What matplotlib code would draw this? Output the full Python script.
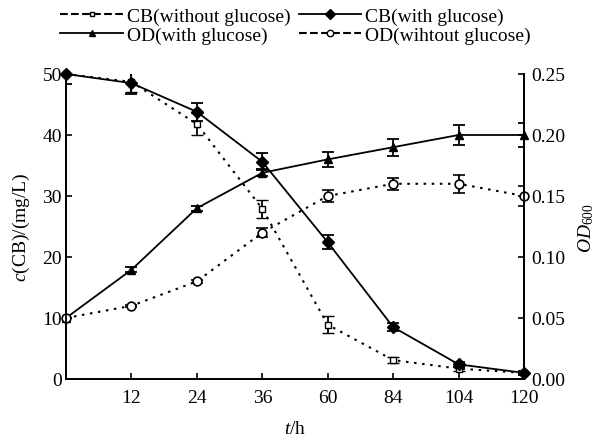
import matplotlib
matplotlib.use("Agg")
import matplotlib.pyplot as plt
from matplotlib.lines import Line2D
import numpy as np

plt.rcParams['font.family'] = ['Liberation Serif', 'DejaVu Serif']
plt.rcParams['mathtext.fontset'] = 'custom'
plt.rcParams['mathtext.rm'] = 'Liberation Serif'
plt.rcParams['mathtext.it'] = 'Liberation Serif:italic'

time_labels = ['0', '12', '24', '36', '60', '84', '104', '120']

cb_without = [50, 48.7, 41.8, 27.9, 8.9, 3.1, 1.7, 1.0]
cb_without_err = [0, 1.6, 1.75, 1.45, 1.4, 0.55, 0.4, 0.2]
cb_with = [50, 48.5, 43.8, 35.6, 22.4, 8.5, 2.4, 1.0]
cb_with_err = [1.6, 1.8, 1.45, 1.4, 1.15, 0.6, 0.4, 0.3]
od_with = [0.05, 0.0895, 0.14, 0.169, 0.18, 0.19, 0.20, 0.20]
od_with_err = [0, 0.002, 0.002, 0.003, 0.006, 0.007, 0.008, 0.01]
od_without = [0.05, 0.06, 0.08, 0.12, 0.15, 0.16, 0.16, 0.15]
od_without_err = [0, 0.001, 0.001, 0.004, 0.005, 0.005, 0.0074, 0.0078]

x = np.arange(len(time_labels))

fig = plt.figure(figsize=(6.02, 4.39), dpi=100)
ax = fig.add_axes([0.1096, 0.1344, 0.761, 0.6948])
ax2 = ax.twinx()

dot = (0, (1.2, 2.7))
ekw = dict(capsize=4.3, elinewidth=1.3, capthick=1.3, ecolor='black')

h1 = ax.errorbar(x, cb_without, yerr=cb_without_err, color='black', ls=dot, lw=1.5,
                 marker='s', ms=3.8, mfc='white', mec='black', mew=1.0, **ekw)
h2 = ax.errorbar(x, cb_with, yerr=cb_with_err, color='black', ls='-', lw=1.3,
                 marker='D', ms=6.2, mfc='black', mec='black', **ekw)
h3 = ax2.errorbar(x, od_with, yerr=od_with_err, color='black', ls='-', lw=1.3,
                  marker='^', ms=6, mfc='black', mec='black', **ekw)
h4 = ax2.errorbar(x, od_without, yerr=od_without_err, color='black', ls=dot, lw=1.5,
                  marker='o', ms=6.3, mfc='white', mec='black', mew=1.2, **ekw)
for h in (h1, h2, h3, h4):
    h.lines[0].set_clip_on(False)

ax.set_xlim(0, 7)
ax.set_ylim(0, 50)
ax2.set_ylim(0, 0.25)
ax.set_xticks(x[1:])
ax.set_xticklabels(time_labels[1:])
ax.set_yticks(np.arange(0, 51, 10))
ax2.set_yticks(np.arange(0, 0.26, 0.05))
ax2.set_yticklabels([f'{v:.2f}' for v in np.arange(0, 0.26, 0.05)])

for a in (ax, ax2):
    a.spines['top'].set_visible(False)
    for s in a.spines.values():
        s.set_linewidth(1.3)
    a.tick_params(direction='in', length=4, width=1.2, labelsize=14)
ax.tick_params(axis='x', pad=7)
ax.tick_params(axis='y', pad=3)
ax2.tick_params(axis='y', pad=5)

ax.set_xlabel('$t$/h', fontsize=14, labelpad=10)
ax.set_ylabel('$c$(CB)/(mg/L)', fontsize=14, labelpad=7)
ax2.set_ylabel(r'$\mathit{OD}_{\mathrm{600}}$', fontsize=14, labelpad=8)

labels = ['CB(without glucose)', 'OD(with glucose)', 'CB(with glucose)', 'OD(wihtout glucose)']
handles = [h1, h3, h2, h4]
leg_ms = [3.2, 5.0, 5.2, 4.6]
handles_plain = []
for h, m in zip(handles, leg_ms):
    l = h.lines[0]
    handles_plain.append(Line2D([], [], color='black', ls=l.get_linestyle(), lw=l.get_linewidth(),
                                marker=l.get_marker(), ms=m,
                                mfc=l.get_markerfacecolor(), mec='black', mew=1.0))
fig.legend(handles_plain, labels, ncol=2, loc='upper center', bbox_to_anchor=(0.491, 1.022),
           frameon=False, fontsize=14, handlelength=3.2, columnspacing=0.45,
           handletextpad=0.2, labelspacing=0.08)

fig.savefig('out.png', dpi=100)
